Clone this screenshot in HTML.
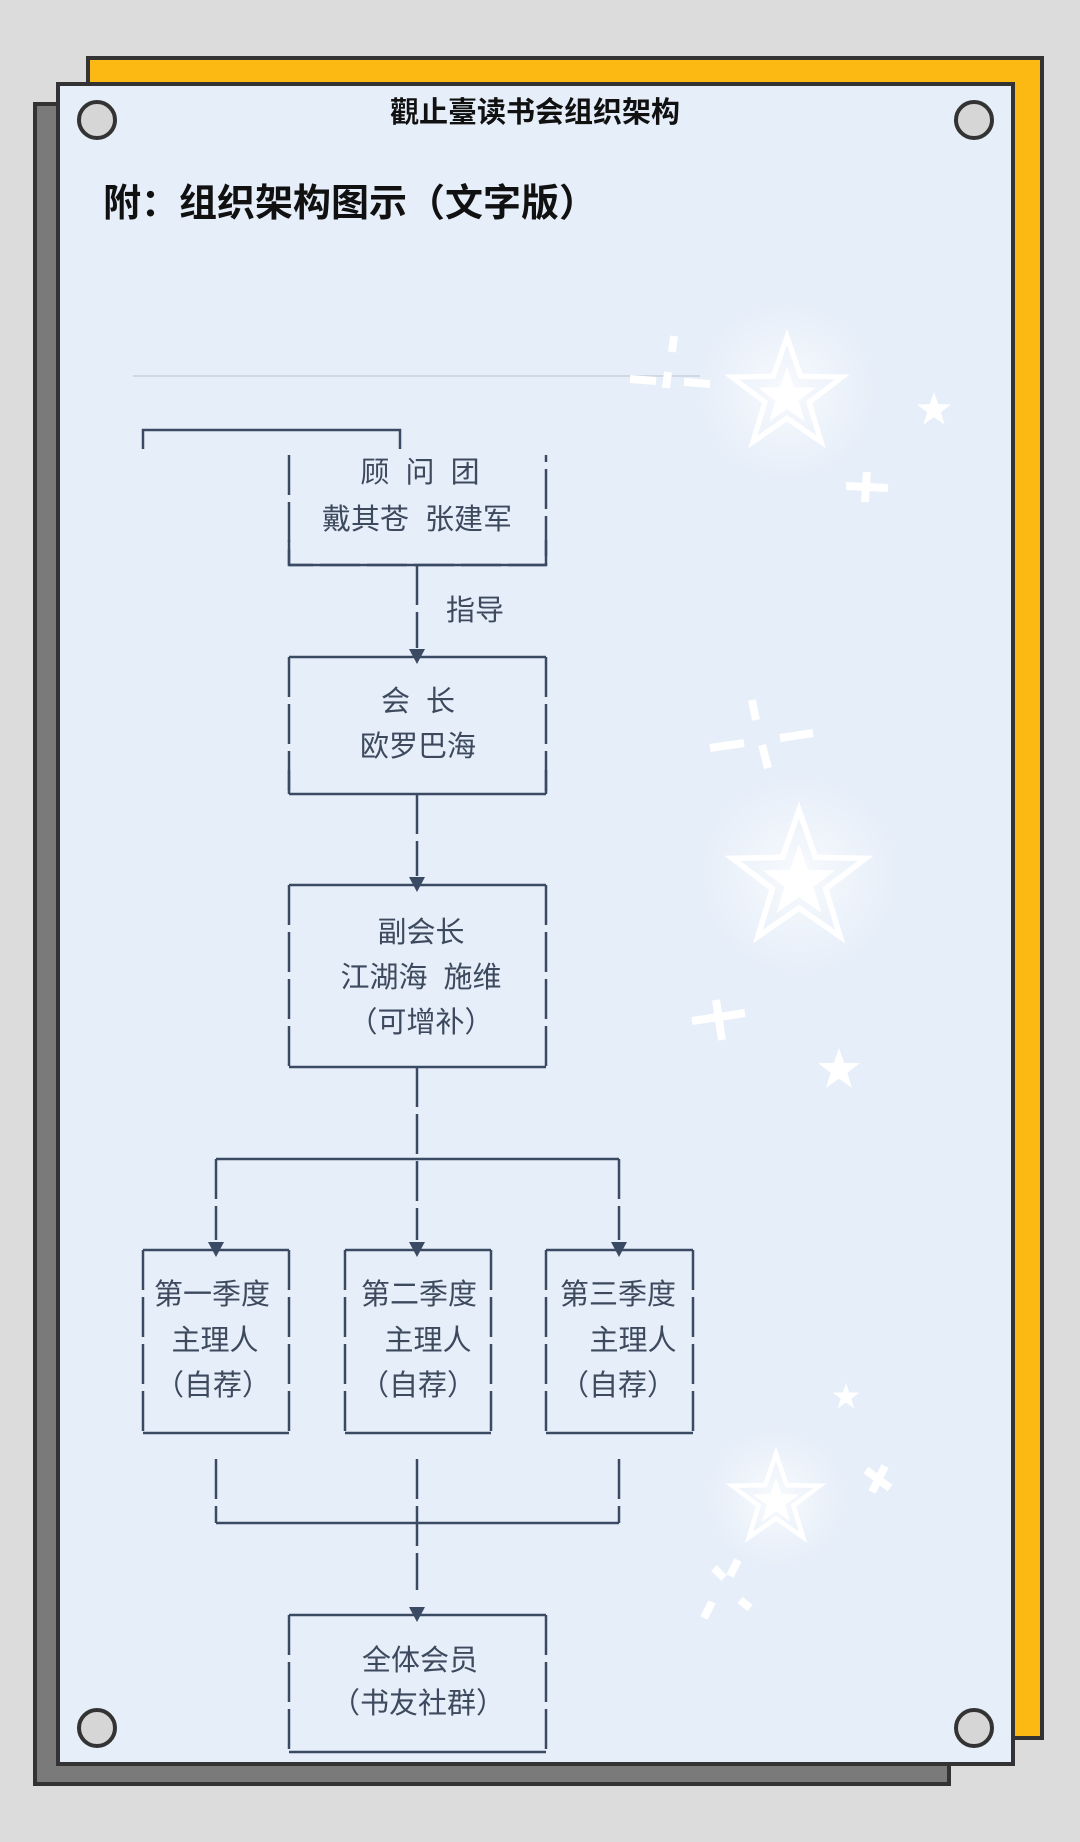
<!DOCTYPE html>
<html><head><meta charset="utf-8"><style>
html,body{margin:0;padding:0;background:#dcdcdc}
svg{display:block}
text{font-family:"Liberation Sans","Noto Sans CJK SC",sans-serif}
</style></head><body>
<svg width="1080" height="1842" viewBox="0 0 1080 1842" xmlns="http://www.w3.org/2000/svg">
<defs>
<radialGradient id="glow"><stop offset="0" stop-color="#ffffff" stop-opacity="0.7"/><stop offset="1" stop-color="#ffffff" stop-opacity="0"/></radialGradient>
</defs>
<rect width="1080" height="1842" fill="#dcdcdc"/>
<rect x="88" y="58" width="954" height="1680" fill="#fdb913" stroke="#333" stroke-width="4"/>
<rect x="35" y="104" width="914" height="1680" fill="#7a7a7a" stroke="#333" stroke-width="4"/>
<rect x="58" y="84" width="955" height="1680" fill="#e6eef9" stroke="#333" stroke-width="4"/>
<g fill="#d6d6d6" stroke="#333" stroke-width="4">
<circle cx="97" cy="120" r="18"/><circle cx="974" cy="120" r="18"/>
<circle cx="97" cy="1728" r="18"/><circle cx="974" cy="1728" r="18"/>
</g>
<text x="535" y="122" font-size="29" font-weight="bold" fill="#111" text-anchor="middle">觀止臺读书会组织架构</text>
<text x="103" y="216" font-size="38" font-weight="bold" fill="#111">附：组织架构图示（文字版）</text>
<line x1="133" y1="376" x2="700" y2="376" stroke="#d0d8e4" stroke-width="2"/>

<g>
<circle cx="787" cy="391" r="90" fill="url(#glow)"/>
<circle cx="799" cy="875" r="100" fill="url(#glow)"/>
<circle cx="776" cy="1498" r="70" fill="url(#glow)"/>
</g>
<g fill="none" stroke="#ffffff" stroke-width="5" stroke-linejoin="miter">
<polygon transform="translate(787,395) scale(58)" stroke-width="0.09" points="0,-1 0.235,-0.324 0.951,-0.309 0.38,0.124 0.588,0.809 0,0.4 -0.588,0.809 -0.38,0.124 -0.951,-0.309 -0.235,-0.324"/>
<polygon transform="translate(799,880) scale(70)" stroke-width="0.08" points="0,-1 0.235,-0.324 0.951,-0.309 0.38,0.124 0.588,0.809 0,0.4 -0.588,0.809 -0.38,0.124 -0.951,-0.309 -0.235,-0.324"/>
<polygon transform="translate(776,1500) scale(46)" stroke-width="0.1" points="0,-1 0.235,-0.324 0.951,-0.309 0.38,0.124 0.588,0.809 0,0.4 -0.588,0.809 -0.38,0.124 -0.951,-0.309 -0.235,-0.324"/>
</g>
<g fill="#ffffff">
<polygon transform="translate(787,397) scale(30)" points="0,-1 0.235,-0.324 0.951,-0.309 0.38,0.124 0.588,0.809 0,0.4 -0.588,0.809 -0.38,0.124 -0.951,-0.309 -0.235,-0.324"/>
<polygon transform="translate(799,882) scale(38)" points="0,-1 0.235,-0.324 0.951,-0.309 0.38,0.124 0.588,0.809 0,0.4 -0.588,0.809 -0.38,0.124 -0.951,-0.309 -0.235,-0.324"/>
<polygon transform="translate(776,1502) scale(24)" points="0,-1 0.235,-0.324 0.951,-0.309 0.38,0.124 0.588,0.809 0,0.4 -0.588,0.809 -0.38,0.124 -0.951,-0.309 -0.235,-0.324"/>
<polygon transform="translate(934,410) scale(18)" points="0,-1 0.235,-0.324 0.951,-0.309 0.38,0.124 0.588,0.809 0,0.4 -0.588,0.809 -0.38,0.124 -0.951,-0.309 -0.235,-0.324"/>
<polygon transform="translate(839,1070) scale(22)" points="0,-1 0.235,-0.324 0.951,-0.309 0.38,0.124 0.588,0.809 0,0.4 -0.588,0.809 -0.38,0.124 -0.951,-0.309 -0.235,-0.324"/>
<polygon transform="translate(846,1397) scale(14)" points="0,-1 0.235,-0.324 0.951,-0.309 0.38,0.124 0.588,0.809 0,0.4 -0.588,0.809 -0.38,0.124 -0.951,-0.309 -0.235,-0.324"/>
</g>
<g stroke="#ffffff" stroke-width="8" stroke-linecap="butt">
<line x1="846" y1="486" x2="888" y2="488"/><line x1="867" y1="472" x2="865" y2="502"/>
<line x1="692" y1="1021" x2="745" y2="1013"/><line x1="716" y1="1000" x2="722" y2="1040"/>
<line x1="866" y1="1470" x2="890" y2="1488"/><line x1="885" y1="1466" x2="872" y2="1492"/>
<line x1="674" y1="336" x2="672" y2="352"/><line x1="668" y1="372" x2="666" y2="388"/>
<line x1="630" y1="379" x2="656" y2="381"/><line x1="684" y1="382" x2="710" y2="384"/>
<line x1="752" y1="700" x2="756" y2="720"/><line x1="762" y1="745" x2="768" y2="768"/>
<line x1="710" y1="748" x2="744" y2="743"/><line x1="780" y1="738" x2="813" y2="733"/>
<line x1="714" y1="1568" x2="724" y2="1578"/><line x1="740" y1="1600" x2="750" y2="1608"/>
<line x1="738" y1="1560" x2="730" y2="1576"/><line x1="712" y1="1602" x2="704" y2="1618"/>
</g>

<g stroke="#3b4a63" stroke-width="2.5" fill="none">
<polyline points="143,449 143,430 400,430 400,449"/>
<polyline points="289,455 289,565 546,565 546,455" stroke-dasharray="40 7"/>
<line x1="289" y1="540" x2="289" y2="565"/><line x1="546" y1="540" x2="546" y2="565"/><line x1="289" y1="565" x2="546" y2="565"/>
<line x1="417" y1="565" x2="417" y2="648" stroke-dasharray="40 7"/>
<line x1="417" y1="794" x2="417" y2="876" stroke-dasharray="40 7"/>
<line x1="417" y1="1067" x2="417" y2="1240" stroke-dasharray="40 7"/>
<line x1="216" y1="1159" x2="216" y2="1240" stroke-dasharray="40 7"/>
<line x1="619" y1="1159" x2="619" y2="1240" stroke-dasharray="40 7"/>
<line x1="216" y1="1159" x2="619" y2="1159"/>
<line x1="216" y1="1459" x2="216" y2="1523" stroke-dasharray="40 7"/>
<line x1="619" y1="1459" x2="619" y2="1523" stroke-dasharray="40 7"/>
<line x1="417" y1="1459" x2="417" y2="1590" stroke-dasharray="40 7"/>
<line x1="216" y1="1523" x2="619" y2="1523"/>
<g stroke-dasharray="40 7">
<line x1="289" y1="657" x2="289" y2="794"/><line x1="546" y1="657" x2="546" y2="794"/>
<line x1="289" y1="885" x2="289" y2="1067"/><line x1="546" y1="885" x2="546" y2="1067"/>
<line x1="143" y1="1250" x2="143" y2="1433"/><line x1="289" y1="1250" x2="289" y2="1433"/>
<line x1="345" y1="1250" x2="345" y2="1433"/><line x1="491" y1="1250" x2="491" y2="1433"/>
<line x1="546" y1="1250" x2="546" y2="1433"/><line x1="693" y1="1250" x2="693" y2="1433"/>
<line x1="289" y1="1615" x2="289" y2="1752"/><line x1="546" y1="1615" x2="546" y2="1752"/>
</g>
<line x1="289" y1="657" x2="546" y2="657"/><line x1="289" y1="794" x2="546" y2="794"/>
<line x1="289" y1="885" x2="546" y2="885"/><line x1="289" y1="1067" x2="546" y2="1067"/>
<line x1="143" y1="1250" x2="289" y2="1250"/><line x1="143" y1="1433" x2="289" y2="1433"/>
<line x1="345" y1="1250" x2="491" y2="1250"/><line x1="345" y1="1433" x2="491" y2="1433"/>
<line x1="546" y1="1250" x2="693" y2="1250"/><line x1="546" y1="1433" x2="693" y2="1433"/>
<line x1="289" y1="1615" x2="546" y2="1615"/><line x1="289" y1="1752" x2="546" y2="1752"/>
<line x1="289" y1="770" x2="289" y2="794"/><line x1="546" y1="770" x2="546" y2="794"/>
</g>
<g fill="#3b4a63">
<polygon points="409,649 425,649 417,664"/>
<polygon points="409,877 425,877 417,892"/>
<polygon points="208,1242 224,1242 216,1257"/>
<polygon points="409,1242 425,1242 417,1257"/>
<polygon points="611,1242 627,1242 619,1257"/>
<polygon points="409,1607 425,1607 417,1622"/>
</g>
<g font-size="29" fill="#3d4a5e" text-anchor="middle">
<text x="420" y="482" xml:space="preserve">顾  问  团</text>
<text x="417" y="529" xml:space="preserve">戴其苍  张建军</text>
<text x="446" y="620" text-anchor="start">指导</text>
<text x="418" y="711" xml:space="preserve">会  长</text>
<text x="418" y="756">欧罗巴海</text>
<text x="421" y="942">副会长</text>
<text x="421" y="987" xml:space="preserve">江湖海  施维</text>
<text x="421" y="1032">（可增补）</text>
<text x="212" y="1304">第一季度</text>
<text x="215" y="1350">主理人</text>
<text x="213" y="1395">（自荐）</text>
<text x="419" y="1304">第二季度</text>
<text x="428" y="1350">主理人</text>
<text x="418" y="1395">（自荐）</text>
<text x="618" y="1304">第三季度</text>
<text x="633" y="1350">主理人</text>
<text x="618" y="1395">（自荐）</text>
<text x="420" y="1670">全体会员</text>
<text x="418" y="1713">（书友社群）</text>
</g>
</svg>
</body></html>
